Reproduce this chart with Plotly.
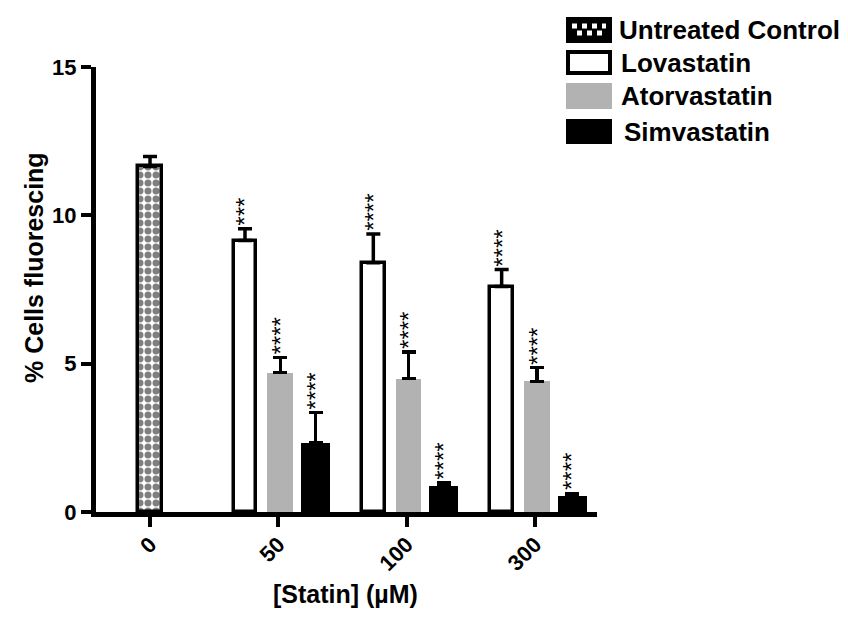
import plotly.graph_objects as go

# ---------------- data ----------------
groups = ["0", "50", "100", "300"]          # [Statin] (µM) tick labels
control_mean = [11.65]
control_err = [0.33]
lova_mean = [9.15, 8.40, 7.60]
lova_err = [0.40, 0.97, 0.57]
lova_stars = ["***", "****", "****"]
atorva_mean = [4.70, 4.50, 4.40]
atorva_err = [0.50, 0.90, 0.47]
atorva_stars = ["****", "****", "****"]
simva_mean = [2.32, 0.87, 0.55]
simva_err = [1.03, 0.13, 0.08]
simva_stars = ["****", "****", "****"]
series_names = ["Untreated Control", "Lovastatin", "Atorvastatin", "Simvastatin"]

# ---------------- layout constants ----------------
PAGE_OFF = 8                      # default body margin of the html page
W, H = 848 - 2 * PAGE_OFF, 617 - 2 * PAGE_OFF
L, R, T, B = 88, 243, 59, 97
PW, PH = W - L - R, H - T - B
FONT = "Liberation Sans, Arial, sans-serif"

def px_x(p):   # screen pixel -> paper x
    return (p - PAGE_OFF - L) / PW

def px_y(p):   # screen pixel -> paper y
    return (H - B - (p - PAGE_OFF)) / PH

treated_idx = [1, 2, 3]
off = {"lova": -0.26, "atorva": 0.015, "simva": 0.29}

fig = go.Figure()

def err(arr):
    return dict(type="data", symmetric=False, array=arr, arrayminus=[0] * len(arr),
                color="black", thickness=3.5, width=7)

fig.add_trace(go.Bar(
    x=[0], y=control_mean, width=0.18, name=series_names[0],
    marker=dict(color="white", line=dict(color="black", width=3.5),
                pattern=dict(shape=".", fgcolor="black", bgcolor="white", size=8, solidity=0.6)),
    error_y=err(control_err), showlegend=False))

fig.add_trace(go.Bar(
    x=[i + off["lova"] for i in treated_idx], y=lova_mean, width=0.175, name=series_names[1],
    marker=dict(color="white", line=dict(color="black", width=3.5)),
    error_y=err(lova_err), showlegend=False))

fig.add_trace(go.Bar(
    x=[i + off["atorva"] for i in treated_idx], y=atorva_mean, width=0.2, name=series_names[2],
    marker=dict(color="#b2b2b2", line=dict(width=0)),
    error_y=err(atorva_err), showlegend=False))

fig.add_trace(go.Bar(
    x=[i + off["simva"] for i in treated_idx], y=simva_mean, width=0.225, name=series_names[3],
    marker=dict(color="black", line=dict(width=0)),
    error_y=err(simva_err), showlegend=False))

annotations = []
for key, means, errs, stars in [("lova", lova_mean, lova_err, lova_stars),
                                ("atorva", atorva_mean, atorva_err, atorva_stars),
                                ("simva", simva_mean, simva_err, simva_stars)]:
    for i, m, e, s in zip(treated_idx, means, errs, stars):
        annotations.append(dict(
            x=i + off[key], y=m + e, xref="x", yref="y", text=s, textangle=-90,
            showarrow=False, xanchor="center", yanchor="bottom", yshift=1,
            font=dict(family=FONT, size=24, color="black")))

# axis titles
annotations.append(dict(x=px_x(34), y=px_y(268), xref="paper", yref="paper",
                        text="% Cells fluorescing", textangle=-90, showarrow=False,
                        xanchor="center", yanchor="middle",
                        font=dict(family=FONT, size=25, color="black", weight="bold")))
annotations.append(dict(x=px_x(345), y=px_y(594), xref="paper", yref="paper",
                        text="[Statin] (µM)", showarrow=False,
                        xanchor="center", yanchor="middle",
                        font=dict(family=FONT, size=25, color="black", weight="bold")))

# manual legend
leg_text_y = [30, 63, 96, 132]
leg_text_x = [617, 619, 619, 622]
for name, tx, ty in zip(series_names, leg_text_x, leg_text_y):
    annotations.append(dict(x=px_x(tx), y=px_y(ty), xref="paper", yref="paper",
                            text=name, showarrow=False, xanchor="left", yanchor="middle",
                            font=dict(family=FONT, size=26, color="black", weight="bold")))

shapes = []
def rect(x0, y0, x1, y1, fill, line_color=None, line_width=0):
    return dict(type="rect", xref="paper", yref="paper",
                x0=px_x(x0), x1=px_x(x1), y0=px_y(y1), y1=px_y(y0),
                fillcolor=fill, line=dict(color=line_color or fill, width=line_width), layer="above")

def hline(x0, x1, y, color, width, dash):
    return dict(type="line", xref="paper", yref="paper",
                x0=px_x(x0), x1=px_x(x1), y0=px_y(y), y1=px_y(y),
                line=dict(color=color, width=width, dash=dash), layer="above")

shapes.append(rect(566, 17, 612, 43, "black"))
shapes.append(hline(572, 606, 26, "white", 5, "5px,5px"))
shapes.append(hline(577, 606, 33, "white", 5, "5px,5px"))
shapes.append(rect(568, 52, 610, 73, "white", "black", 4))
shapes.append(rect(566, 83, 612, 109, "#b2b2b2"))
shapes.append(rect(566, 119, 612, 144, "black"))

fig.update_layout(
    width=W, height=H,
    margin=dict(l=L, r=R, t=T, b=B, pad=0),
    paper_bgcolor="white", plot_bgcolor="white",
    barmode="overlay", bargap=0,
    showlegend=False,
    annotations=annotations, shapes=shapes,
    font=dict(family=FONT, color="black"),
)
fig.update_xaxes(
    range=[-0.421, 3.483], tickvals=[0, 1, 2, 3], ticktext=groups, tickangle=-45,
    showline=True, linecolor="black", linewidth=5, ticks="outside", ticklen=10,
    tickwidth=4, tickcolor="black", showgrid=False, zeroline=False,
    ticklabelstandoff=-4,
    tickfont=dict(family=FONT, size=22, color="black", weight="bold"))
fig.update_yaxes(
    range=[0, 15], tickvals=[0, 5, 10, 15],
    showline=True, linecolor="black", linewidth=5, ticks="outside", ticklen=10,
    tickwidth=4, tickcolor="black", showgrid=False, zeroline=False,
    tickfont=dict(family=FONT, size=22, color="black", weight="bold"))

fig.write_html("out.html")
